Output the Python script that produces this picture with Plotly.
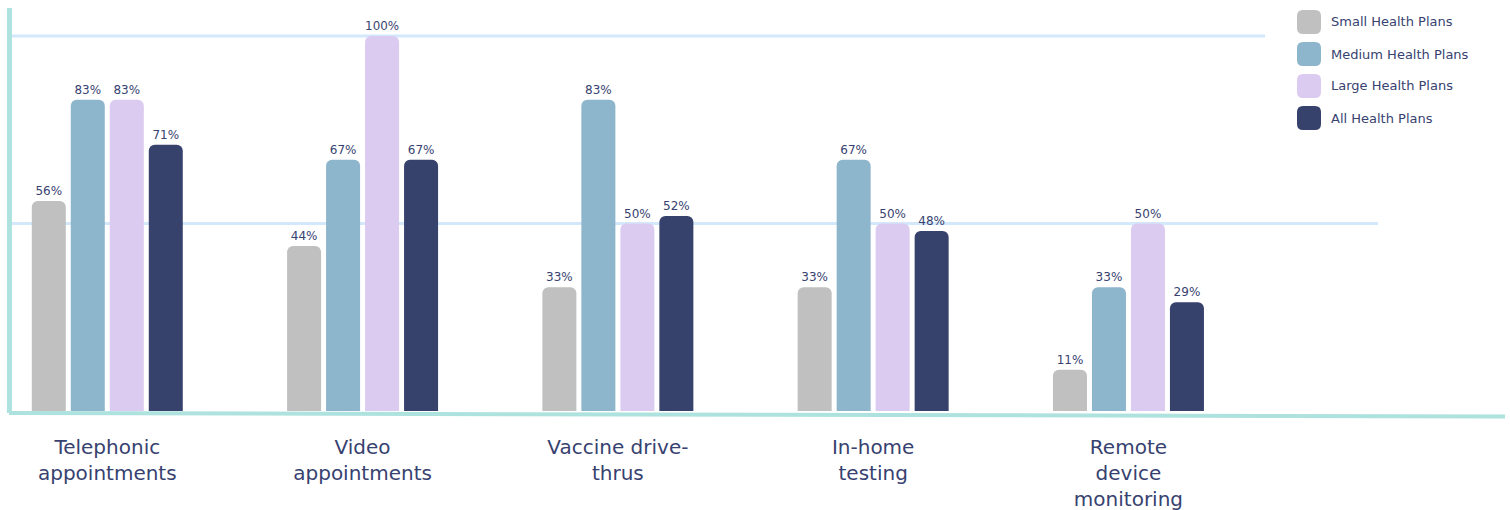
import plotly.graph_objects as go

categories = ["Telephonic<br>appointments", "Video<br>appointments", "Vaccine drive-<br>thrus",
              "In-home<br>testing", "Remote<br>device<br>monitoring"]
series_names = ["Small Health Plans", "Medium Health Plans", "Large Health Plans", "All Health Plans"]
small_vals = [56, 44, 33, 33, 11]
medium_vals = [83, 67, 83, 67, 33]
large_vals = [83, 100, 50, 50, 50]
all_vals = [71, 67, 52, 48, 29]
gridline_vals = [100, 50]

colors = ["#c0c0c0", "#8db5cc", "#dbcbf0", "#36416c"]
navy = "#374270"
FONT = "DejaVu Sans"

W, H = 1510, 510
ML, MR, MT, MB = 9, 5, 5, 89
PX_PER = 3.75
BASE_PX = 411
plot_w = W - ML - MR
plot_h = H - MT - MB
ymax = (BASE_PX - MT) / PX_PER
ymin = -((H - MB) - BASE_PX) / PX_PER

fig = go.Figure()
for name, vals, col in zip(series_names, [small_vals, medium_vals, large_vals, all_vals], colors):
    fig.add_trace(go.Bar(
        x=categories, y=vals, name=name,
        marker=dict(color=col, cornerradius=6, line=dict(width=0)),
        texttemplate="%{y}%", textposition="outside",
        textfont=dict(family=FONT, size=12, color=navy),
        cliponaxis=False, showlegend=False, hoverinfo="skip",
    ))

def px_x(px):
    return (px - ML) / plot_w

def px_y(py):
    return ((H - MB) - py) / plot_h

shapes = []
# gridlines
grid_ends = [1265, 1378]
for gv, xe in zip(gridline_vals, grid_ends):
    shapes.append(dict(type="line", xref="paper", yref="y", x0=px_x(10), x1=px_x(xe),
                       y0=gv, y1=gv, line=dict(color="#d4e8fc", width=3), layer="below"))
# axis lines
teal = "#ade2de"
shapes.append(dict(type="line", xref="paper", yref="y", x0=0.0, x1=1.0,
                   y0=-(413 - BASE_PX) / PX_PER, y1=-(416.5 - BASE_PX) / PX_PER,
                   line=dict(color=teal, width=4)))
shapes.append(dict(type="line", xref="paper", yref="y", x0=0.0003, x1=0.0003,
                   y0=-(413 - BASE_PX) / PX_PER, y1=(BASE_PX - 8) / PX_PER,
                   line=dict(color=teal, width=5)))

# legend (manual, rounded swatches)
rr = "M -12,-6 Q -12,-12 -6,-12 L 6,-12 Q 12,-12 12,-6 L 12,6 Q 12,12 6,12 L -6,12 Q -12,12 -12,6 Z"
annotations = []
leg_y = [22, 54, 86, 118]
for name, col, ly in zip(series_names, colors, leg_y):
    shapes.append(dict(type="path", xref="paper", yref="paper", xsizemode="pixel", ysizemode="pixel",
                       xanchor=px_x(1309), yanchor=px_y(ly), path=rr,
                       fillcolor=col, line=dict(width=0)))
    annotations.append(dict(text=name, xref="paper", yref="paper", x=px_x(1329), y=px_y(ly),
                            xanchor="left", yanchor="middle", showarrow=False,
                            font=dict(family=FONT, size=13, color=navy)))

fig.update_layout(
    width=W, height=H,
    margin=dict(l=ML, r=MR, t=MT, b=MB, autoexpand=False),
    plot_bgcolor="white", paper_bgcolor="white",
    barmode="group", bargap=0.389, bargroupgap=0.128,
    showlegend=False, hovermode=False,
    shapes=shapes, annotations=annotations,
    xaxis=dict(type="category", range=[-0.385, 5.475], showline=False, showgrid=False,
               zeroline=False, ticks="", ticklabelstandoff=12, automargin=False,
               tickfont=dict(family=FONT, size=20, color=navy)),
    yaxis=dict(range=[ymin, ymax], showline=False, showgrid=False, zeroline=False,
               showticklabels=False, automargin=False),
)

fig.write_html("out.html", config={"displayModeBar": False},
               post_script="document.body.style.margin='0px';")
